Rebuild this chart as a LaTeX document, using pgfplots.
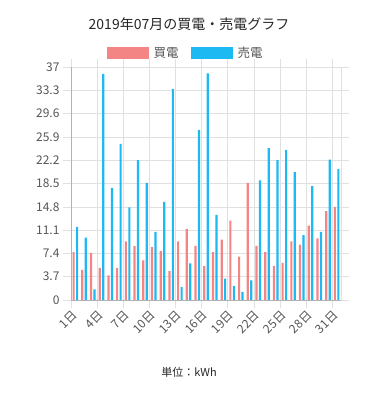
\documentclass[border=0pt]{standalone}
\usepackage{pgfplots}
\pgfplotsset{compat=1.18}
\usepackage{pgfplotstable}
\usepackage{fontspec}
\setmainfont{Noto Sans CJK JP}
\definecolor{buy}{RGB}{244,133,133}
\definecolor{sell}{RGB}{29,185,243}
\definecolor{gridc}{RGB}{224,224,224}
\definecolor{txt}{RGB}{85,85,85}
\pgfplotstableread{
day buy sell
1 7.6 11.6
2 4.8 9.9
3 7.5 1.7
4 5.1 35.9
5 3.9 17.8
6 5.1 24.8
7 9.3 14.7
8 8.6 22.2
9 6.3 18.6
10 8.4 10.8
11 7.8 15.6
12 4.6 33.5
13 9.3 2.1
14 11.3 5.8
15 8.6 27.0
16 5.4 36.0
17 7.6 13.5
18 9.6 3.4
19 12.6 2.2
20 6.9 1.3
21 18.6 3.1
22 8.6 19.0
23 7.6 24.1
24 5.4 22.2
25 5.9 23.8
26 9.3 20.3
27 8.8 10.3
28 11.8 18.1
29 9.8 10.8
30 14.1 22.3
31 14.8 20.8
}\data
\begin{document}
\begin{tikzpicture}
\path[use as bounding box] (0pt,0pt) rectangle (378pt,400pt);
\node[font=\fontsize{14}{16}\selectfont, text=black!85] at (189pt,376pt) {2019年07月の買電・売電グラフ};
\node[font=\fontsize{11}{13}\selectfont, text=black!85] at (189pt,28pt) {単位：kWh};
\begin{axis}[
  at={(71pt,100pt)}, anchor=south west,
  scale only axis, width=270pt, height=233pt,
  xmin=0.5, xmax=31.5, ymin=0, ymax=37,
  xtick={0.5,3.5,...,30.5},
  xticklabels={1日,4日,7日,10日,13日,16日,19日,22日,25日,28日,31日},
  ytick={0,3.7,7.4,11.1,14.8,18.5,22.2,25.9,29.6,33.3,37},
  yticklabels={0,3.7,7.4,11.1,14.8,18.5,22.2,25.9,29.6,33.3,37},
  grid=major, grid style={gridc, line width=0.6pt},
  axis line style={gridc, line width=0.6pt},
  tick align=outside, major tick length=8pt,
  tick style={gridc, line width=0.6pt},
  x tick label style={rotate=45, anchor=north east, font=\fontsize{12}{14}\selectfont, text=txt, inner sep=1pt},
  y tick label style={font=\fontsize{12}{14}\selectfont, text=txt},
  /pgf/number format/assume math mode=true,
  legend columns=2,
  legend style={draw=none, fill=none, at={(0.425,1.058)}, anchor=center,
    font=\fontsize{12.5}{14}\selectfont, text=txt,
    /tikz/every even column/.append style={column sep=10pt},
    /tikz/every odd column/.append style={column sep=3pt}},
]
\addplot[ybar, bar width=0.25, bar shift=-0.2, fill=buy, draw=none,
  legend image code/.code={\fill[buy] (0pt,-6pt) rectangle (42pt,6pt);}]
  table[x=day, y=buy]{\data};
\addlegendentry{買電}
\addplot[ybar, bar width=0.25, bar shift=0.2, fill=sell, draw=none,
  legend image code/.code={\fill[sell] (0pt,-6pt) rectangle (42pt,6pt);}]
  table[x=day, y=sell]{\data};
\addlegendentry{売電}
\draw[gray!60, line width=0.6pt] (rel axis cs:0,0) -- (rel axis cs:0,1);
\draw[gray!60, line width=0.6pt] (rel axis cs:0,0) -- (rel axis cs:1,0);
\end{axis}
\end{tikzpicture}
\end{document}
